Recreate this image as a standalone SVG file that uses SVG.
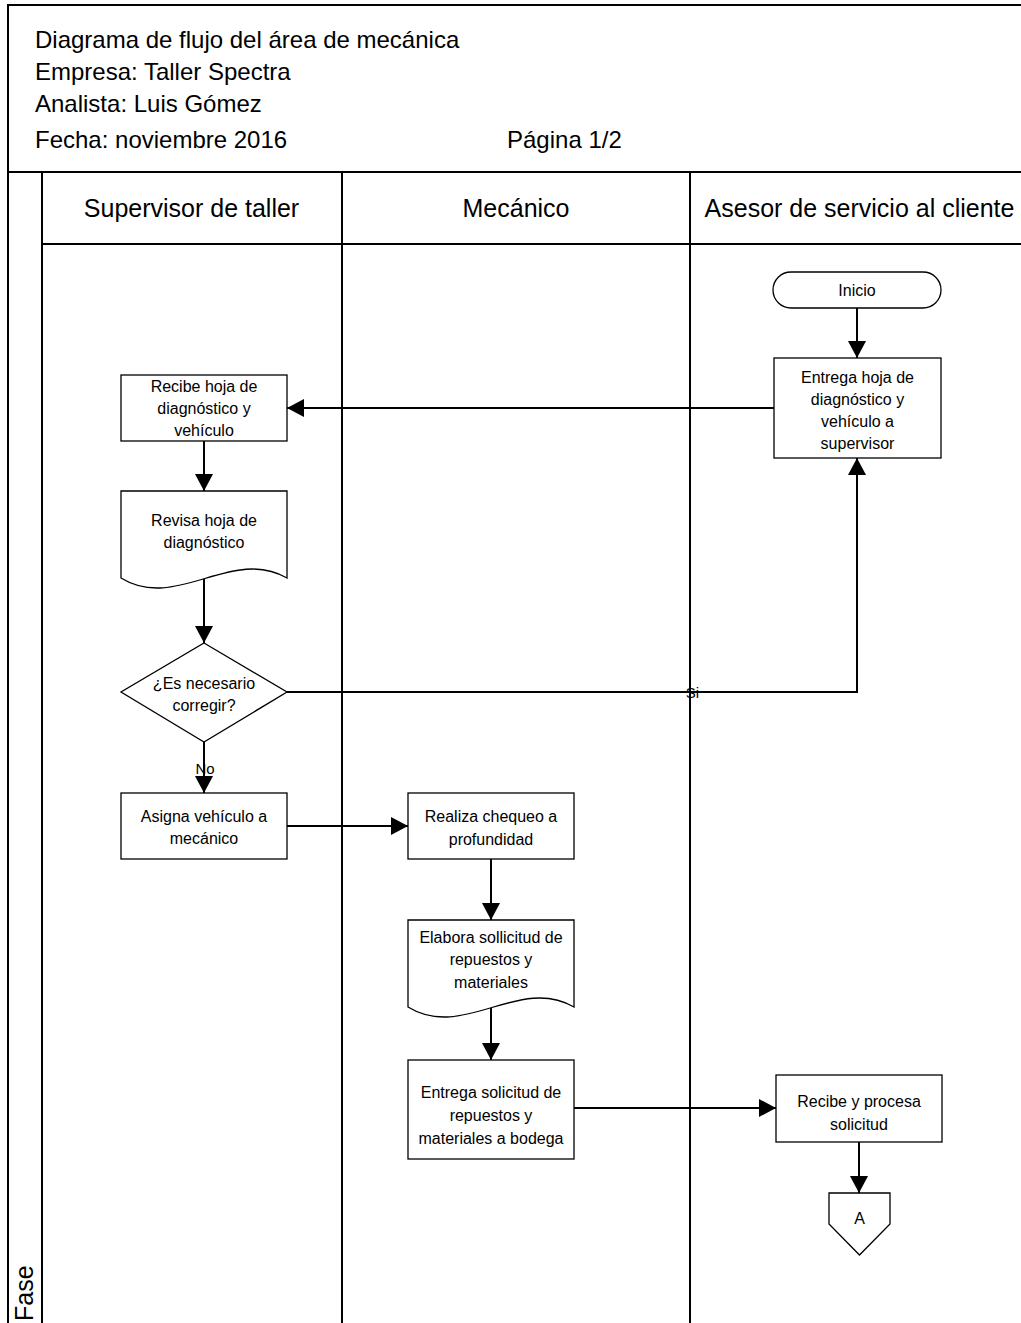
<svg xmlns="http://www.w3.org/2000/svg" width="1021" height="1323" viewBox="0 0 1021 1323">
  <style>
    .frame { stroke: #000; stroke-width: 2; fill: none; }
    .shape { stroke: #000; stroke-width: 1.3; fill: #fff; }
    .conn { stroke: #000; stroke-width: 2; fill: none; }
    .hdr { font-family: "Liberation Sans", Arial, sans-serif; font-size: 24px; fill: #000; }
    .lane { font-family: "Liberation Sans", Arial, sans-serif; font-size: 25px; fill: #000; text-anchor: middle; }
    .lbl { font-family: "Liberation Sans", Arial, sans-serif; font-size: 16px; fill: #000; text-anchor: middle; }
    .tag { font-family: "Liberation Sans", Arial, sans-serif; font-size: 15px; fill: #000; text-anchor: middle; }
  </style>
  <defs>
    <marker id="arrow" markerUnits="userSpaceOnUse" markerWidth="17" markerHeight="18" viewBox="0 0 17 18" refX="17" refY="9" orient="auto">
      <path d="M0,0 L17,9 L0,18 Z" fill="#000"/>
    </marker>
  </defs>

  <rect width="1021" height="1323" fill="#fff"/>

  <!-- page frame, title block and swimlanes -->
  <g id="frame">
    <path class="frame" d="M8,1323 V5 H1021"/>
    <path class="frame" d="M8,172 H1021"/>
    <path class="frame" d="M42,244 H1021"/>
    <path class="frame" d="M42,172 V1323"/>
    <path class="frame" d="M342,172 V1323"/>
    <path class="frame" d="M690,172 V1323"/>
  </g>

  <g id="title">
    <text class="hdr" x="35" y="48">Diagrama de flujo del área de mecánica</text>
    <text class="hdr" x="35" y="80">Empresa: Taller Spectra</text>
    <text class="hdr" x="35" y="112">Analista: Luis Gómez</text>
    <text class="hdr" x="35" y="148">Fecha: noviembre 2016</text>
    <text class="hdr" x="507" y="148">Página 1/2</text>
  </g>

  <g id="lane-headers">
    <text class="lane" x="191.5" y="217">Supervisor de taller</text>
    <text class="lane" x="516" y="217">Mecánico</text>
    <text class="lane" x="859.5" y="217">Asesor de servicio al cliente</text>
    <text class="lane" x="33" y="1321" transform="rotate(-90 33 1321)" style="text-anchor:start">Fase</text>
  </g>

  <!-- connectors -->
  <g id="connectors">
    <path class="conn" d="M857,308 V358" marker-end="url(#arrow)"/>
    <path class="conn" d="M774,408 H287" marker-end="url(#arrow)"/>
    <path class="conn" d="M204,441 V491" marker-end="url(#arrow)"/>
    <path class="conn" d="M204,579 V643" marker-end="url(#arrow)"/>
    <path class="conn" d="M287,692 H857 V458" marker-end="url(#arrow)"/>
    <path class="conn" d="M204,742 V793" marker-end="url(#arrow)"/>
    <path class="conn" d="M287,826 H408" marker-end="url(#arrow)"/>
    <path class="conn" d="M491,859 V920" marker-end="url(#arrow)"/>
    <path class="conn" d="M491,1008 V1060" marker-end="url(#arrow)"/>
    <path class="conn" d="M574,1108 H776" marker-end="url(#arrow)"/>
    <path class="conn" d="M859,1142 V1193" marker-end="url(#arrow)"/>
    <text class="tag" x="692.5" y="698">Si</text>
    <text class="tag" x="205" y="774">No</text>
  </g>

  <!-- nodes -->
  <g id="inicio">
    <rect class="shape" x="773" y="272" width="168" height="36" rx="18" ry="18"/>
    <text class="lbl" x="857" y="296">Inicio</text>
  </g>

  <g id="entrega-hoja">
    <rect class="shape" x="774" y="358" width="167" height="100"/>
    <text class="lbl" x="857.5" y="383">Entrega hoja de</text>
    <text class="lbl" x="857.5" y="405">diagnóstico y</text>
    <text class="lbl" x="857.5" y="427">vehículo a</text>
    <text class="lbl" x="857.5" y="449">supervisor</text>
  </g>

  <g id="recibe-hoja">
    <rect class="shape" x="121" y="375" width="166" height="66"/>
    <text class="lbl" x="204" y="392">Recibe hoja de</text>
    <text class="lbl" x="204" y="414">diagnóstico y</text>
    <text class="lbl" x="204" y="436">vehículo</text>
  </g>

  <g id="revisa-hoja">
    <path class="shape" d="M121,491 H287 V578 C232,546 176,612 121,578 Z"/>
    <text class="lbl" x="204" y="526">Revisa hoja de</text>
    <text class="lbl" x="204" y="548">diagnóstico</text>
  </g>

  <g id="decision">
    <path class="shape" d="M204,643 L287,692 L204,742 L121,692 Z"/>
    <text class="lbl" x="204" y="689">¿Es necesario</text>
    <text class="lbl" x="204" y="711">corregir?</text>
  </g>

  <g id="asigna">
    <rect class="shape" x="121" y="793" width="166" height="66"/>
    <text class="lbl" x="204" y="822">Asigna vehículo a</text>
    <text class="lbl" x="204" y="844">mecánico</text>
  </g>

  <g id="realiza">
    <rect class="shape" x="408" y="793" width="166" height="66"/>
    <text class="lbl" x="491" y="822">Realiza chequeo a</text>
    <text class="lbl" x="491" y="845">profundidad</text>
  </g>

  <g id="elabora">
    <path class="shape" d="M408,920 H574 V1007 C519,975 463,1041 408,1007 Z"/>
    <text class="lbl" x="491" y="943">Elabora sollicitud de</text>
    <text class="lbl" x="491" y="965">repuestos y</text>
    <text class="lbl" x="491" y="988">materiales</text>
  </g>

  <g id="entrega-solicitud">
    <rect class="shape" x="408" y="1060" width="166" height="99"/>
    <text class="lbl" x="491" y="1098">Entrega solicitud de</text>
    <text class="lbl" x="491" y="1121">repuestos y</text>
    <text class="lbl" x="491" y="1144">materiales a bodega</text>
  </g>

  <g id="recibe-procesa">
    <rect class="shape" x="776" y="1075" width="166" height="67"/>
    <text class="lbl" x="859" y="1107">Recibe y procesa</text>
    <text class="lbl" x="859" y="1130">solicitud</text>
  </g>

  <g id="conector-a">
    <path class="shape" d="M829,1193 H890 V1224 L859.5,1255 L829,1224 Z"/>
    <text class="lbl" x="859.5" y="1224">A</text>
  </g>
</svg>
